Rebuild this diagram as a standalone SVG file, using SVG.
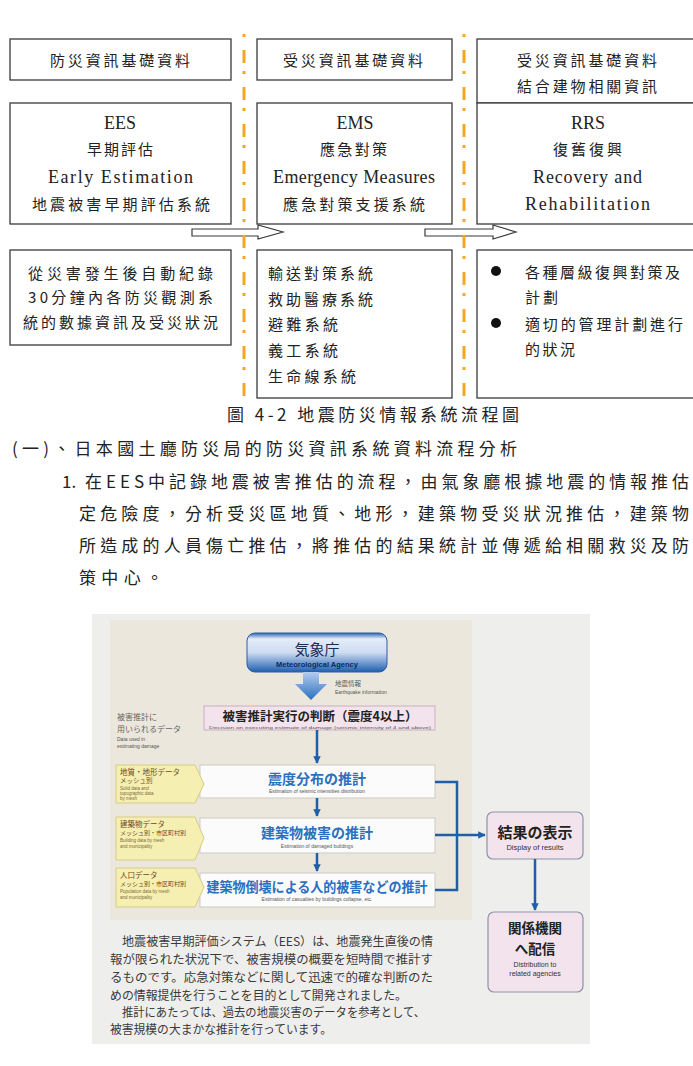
<svg xmlns="http://www.w3.org/2000/svg" width="693" height="1066" viewBox="0 0 693 1066">
<style>
.box{fill:#fff;stroke:#3a3a3a;stroke-width:1.3}
.zh{font-family:"Noto Sans CJK TC","Noto Sans",sans-serif;fill:#222;font-size:15px}
.p{font-family:"Noto Sans CJK TC","Noto Sans",sans-serif;fill:#222;font-size:17px}
.en{font-family:"Liberation Serif",serif;fill:#222;font-size:18px}
.mid{text-anchor:middle}
.blk{fill:#fff;stroke:#3a3a3a;stroke-width:1.2}
.orn{stroke:#f5a623;stroke-width:3;stroke-dasharray:3 13 13 8;fill:none}
.jp{font-family:"Noto Sans CJK JP","Noto Sans",sans-serif}
.wbox{fill:#fbfbfc;stroke:#cfcbc2;stroke-width:1}
.ybox{fill:#f6efb2;stroke:#d6cc86;stroke-width:1}
.pbox{fill:#f2e3ec;stroke:#8b93aa;stroke-width:1.2}
.bl{stroke:#1f5fa8;stroke-width:2.5;fill:none}
.sub{font-family:"Liberation Sans",sans-serif;fill:#555}
.yt{font-family:"Noto Sans CJK JP",sans-serif;fill:#6b4a1a}
.ye{font-family:"Liberation Sans",sans-serif;fill:#7a6a40;font-size:4.5px}
.bt{font-family:"Noto Sans CJK JP",sans-serif;fill:#2a6fc0;font-weight:bold;text-anchor:middle}
.jpp{font-family:"Noto Sans CJK JP",sans-serif;fill:#3a3a3a;font-size:12px}
</style>
<defs>
<marker id="ah" viewBox="0 0 10 10" refX="9" refY="5" markerWidth="3" markerHeight="3" orient="auto" markerUnits="strokeWidth"><path d="M0,0 L10,5 L0,10 z" fill="#1f5fa8"/></marker>
<linearGradient id="ag" x1="0" y1="0" x2="0" y2="1"><stop offset="0" stop-color="#2e63b0"/><stop offset="0.15" stop-color="#e4edf8"/><stop offset="0.5" stop-color="#cddcf1"/><stop offset="1" stop-color="#1f5fb0"/></linearGradient>
<linearGradient id="dg" x1="0" y1="0" x2="0" y2="1"><stop offset="0" stop-color="#b5cdee"/><stop offset="1" stop-color="#2a6fc0"/></linearGradient>
</defs>

<g id="n-top1"><rect class="box" x="10" y="39" width="221" height="41"/><text class="zh" x="50" y="66" textLength="140" lengthAdjust="spacing">防災資訊基礎資料</text></g>
<g id="n-top2"><rect class="box" x="257" y="39" width="195" height="41"/><text class="zh" x="283" y="66" textLength="140" lengthAdjust="spacing">受災資訊基礎資料</text></g>
<g id="n-top3"><rect class="box" x="477" y="39" width="222" height="64"/><text class="zh" x="517" y="66" textLength="140" lengthAdjust="spacing">受災資訊基礎資料</text><text class="zh" x="517" y="92" textLength="140" lengthAdjust="spacing">結合建物相關資訊</text></g>

<g id="n-ees"><rect class="box" x="10" y="103" width="221" height="121"/>
<text class="en mid" x="120" y="129">EES</text>
<text class="zh" x="87" y="155" textLength="66" lengthAdjust="spacing">早期評估</text>
<text class="en" x="48" y="183" textLength="145" lengthAdjust="spacing">Early Estimation</text>
<text class="zh" x="32" y="210" textLength="178" lengthAdjust="spacing">地震被害早期評估系統</text></g>
<g id="n-ems"><rect class="box" x="257" y="103" width="195" height="121"/>
<text class="en mid" x="355" y="129">EMS</text>
<text class="zh" x="320" y="155" textLength="67" lengthAdjust="spacing">應急對策</text>
<text class="en" x="273" y="183" textLength="162" lengthAdjust="spacing">Emergency Measures</text>
<text class="zh" x="283" y="210" textLength="142" lengthAdjust="spacing">應急對策支援系統</text></g>
<g id="n-rrs"><rect class="box" x="477" y="103" width="222" height="121"/>
<text class="en mid" x="588" y="129">RRS</text>
<text class="zh" x="553" y="155" textLength="69" lengthAdjust="spacing">復舊復興</text>
<text class="en" x="533" y="183" textLength="109" lengthAdjust="spacing">Recovery and</text>
<text class="en" x="525" y="210" textLength="125" lengthAdjust="spacing">Rehabilitation</text></g>

<g id="n-b1"><rect class="box" x="10" y="250" width="221" height="95"/>
<text class="zh" x="28" y="279" textLength="185" lengthAdjust="spacing">從災害發生後自動紀錄</text>
<text class="zh" x="28" y="303" textLength="185" lengthAdjust="spacing">30分鐘內各防災觀測系</text>
<text class="zh" x="23" y="328" textLength="195" lengthAdjust="spacing">統的數據資訊及受災狀況</text></g>
<g id="n-b2"><rect class="box" x="257" y="250" width="195" height="148"/>
<text class="zh" x="268" y="279" textLength="105" lengthAdjust="spacing">輸送對策系統</text>
<text class="zh" x="268" y="305" textLength="105" lengthAdjust="spacing">救助醫療系統</text>
<text class="zh" x="268" y="330" textLength="70" lengthAdjust="spacing">避難系統</text>
<text class="zh" x="268" y="356" textLength="70" lengthAdjust="spacing">義工系統</text>
<text class="zh" x="268" y="382" textLength="88" lengthAdjust="spacing">生命線系統</text></g>
<g id="n-b3"><rect class="box" x="477" y="250" width="222" height="148"/>
<circle cx="496" cy="271" r="5" fill="#111"/><circle cx="496" cy="323" r="5" fill="#111"/>
<text class="zh" x="525" y="278" textLength="155" lengthAdjust="spacing">各種層級復興對策及</text>
<text class="zh" x="525" y="303" textLength="33" lengthAdjust="spacing">計劃</text>
<text class="zh" x="525" y="330" textLength="158" lengthAdjust="spacing">適切的管理計劃進行</text>
<text class="zh" x="525" y="355" textLength="50" lengthAdjust="spacing">的狀況</text></g>

<g id="connectors">
<path class="blk" d="M192,229 H258 V225 L283,232 L258,239 V236 H192 Z"/>
<path class="blk" d="M425,229 H493 V225 L516,232 L493,239 V236 H425 Z"/>
<line class="orn" x1="244" y1="34" x2="244" y2="398"/>
<line class="orn" x1="464" y1="34" x2="464" y2="398"/>
</g>

<g id="caption">
<text class="p" x="227" y="421" textLength="292" lengthAdjust="spacing">圖 4-2 地震防災情報系統流程圖</text>
<text class="p" x="12" y="455" textLength="505" lengthAdjust="spacing">(一)、日本國土廳防災局的防災資訊系統資料流程分析</text>
<text class="p" x="62" y="488">1.</text>
<text class="p" x="85" y="488" textLength="604" lengthAdjust="spacing">在EES中記錄地震被害推估的流程，由氣象廳根據地震的情報推估</text>
<text class="p" x="79" y="520" textLength="610" lengthAdjust="spacing">定危險度，分析受災區地質、地形，建築物受災狀況推估，建築物</text>
<text class="p" x="79" y="552" textLength="610" lengthAdjust="spacing">所造成的人員傷亡推估，將推估的結果統計並傳遞給相關救災及防</text>
<text class="p" x="79" y="584" textLength="84" lengthAdjust="spacing">策中心。</text>
</g>

<g id="photo">
<rect x="92" y="614" width="498" height="430" fill="#eeeeec"/>
<rect x="110" y="620" width="362" height="300" fill="#ebe7dc"/>

<g id="p-agency">
<rect x="247" y="633" width="140" height="39" rx="8" fill="url(#ag)" stroke="#2a5ea8" stroke-width="1"/>
<text class="jp mid" x="317" y="655" font-size="15" fill="#1b2a55">気象庁</text>
<text class="sub mid" x="317" y="667" font-size="7.5" font-weight="bold" style="fill:#0e2a5e">Meteorological Agency</text>
</g>
<path d="M303,672 H319 V684 H327 L311,700 L295,684 H303 Z" fill="url(#dg)"/>
<text class="jp" x="335" y="686" font-size="6.5" fill="#555">地震情報</text>
<text class="sub" x="335" y="694" font-size="5">Earthquake information</text>

<g id="p-label">
<text class="jp" x="117" y="720" font-size="8" fill="#666">被害推計に</text>
<text class="jp" x="117" y="732" font-size="8" fill="#666">用いられるデータ</text>
<text class="sub" x="117" y="741" font-size="5">Data used in</text>
<text class="sub" x="117" y="748" font-size="5">estimating damage</text>
</g>

<g id="p-decision">
<rect x="204" y="706" width="231" height="24" fill="#f3e3ec" stroke="#c8b0c0" stroke-width="1"/>
<text class="jp mid" x="320" y="721" font-size="12.5" font-weight="bold" fill="#222">被害推計実行の判断（震度4以上）</text>
<text class="sub mid" x="320" y="728.5" font-size="4.3" textLength="222" lengthAdjust="spacingAndGlyphs">Decision on executing estimate of damage (seismic intensity of 4 and above)</text>
</g>

<g id="p-seis">
<rect class="wbox" x="200" y="765" width="235" height="33"/>
<text class="bt" x="317" y="784" font-size="14">震度分布の推計</text>
<text class="sub mid" x="317" y="793" font-size="5">Estimation of seismic intensities distribution</text>
</g>
<g id="p-build">
<rect class="wbox" x="200" y="818" width="235" height="35"/>
<text class="bt" x="317" y="838" font-size="14">建築物被害の推計</text>
<text class="sub mid" x="317" y="848" font-size="5">Estimation of damaged buildings</text>
</g>
<g id="p-cas">
<rect class="wbox" x="200" y="873" width="235" height="34"/>
<text class="bt" x="317" y="892" font-size="13.5" textLength="221" lengthAdjust="spacingAndGlyphs">建築物倒壊による人的被害などの推計</text>
<text class="sub mid" x="317" y="901" font-size="5">Estimation of casualties by buildings collapse, etc.</text>
</g>

<g id="p-y1">
<path class="ybox" d="M116,765 H195 L204,784 L195,803 H116 Z"/>
<text class="yt" x="120" y="775" font-size="7.5">地質・地形データ</text>
<text class="yt" x="120" y="783" font-size="6.5">メッシュ別</text>
<text class="ye" x="120" y="790">Solid data and</text>
<text class="ye" x="120" y="795">topographic data</text>
<text class="ye" x="120" y="800">by mesh</text>
</g>
<g id="p-y2">
<path class="ybox" d="M116,817 H195 L204,838 L195,860 H116 Z"/>
<text class="yt" x="120" y="827" font-size="7.5">建築物データ</text>
<text class="yt" x="120" y="835" font-size="6">メッシュ別・市区町村別</text>
<text class="ye" x="120" y="842">Building data by mesh</text>
<text class="ye" x="120" y="848">and municipality</text>
</g>
<g id="p-y3">
<path class="ybox" d="M116,868 H195 L204,887 L195,907 H116 Z"/>
<text class="yt" x="120" y="878" font-size="7.5">人口データ</text>
<text class="yt" x="120" y="886" font-size="6">メッシュ別・市区町村別</text>
<text class="ye" x="120" y="893">Population data by mesh</text>
<text class="ye" x="120" y="899">and municipality</text>
</g>

<g id="p-result">
<rect class="pbox" x="487" y="812" width="96" height="47" rx="6"/>
<text class="jp mid" x="535" y="838" font-size="15" font-weight="bold" fill="#222">結果の表示</text>
<text class="sub mid" x="535" y="850" font-size="7.5" style="fill:#333">Display of results</text>
</g>
<g id="p-dist">
<rect class="pbox" x="488" y="912" width="95" height="80" rx="6"/>
<text class="jp mid" x="535" y="933" font-size="13.5" font-weight="bold" fill="#222">関係機関</text>
<text class="jp mid" x="535" y="954" font-size="13.5" font-weight="bold" fill="#222">へ配信</text>
<text class="sub mid" x="535" y="967" font-size="7" style="fill:#333">Distribution to</text>
<text class="sub mid" x="535" y="976" font-size="7" style="fill:#333">related agencies</text>
</g>

<g id="p-connectors">
<line class="bl" x1="317" y1="730" x2="317" y2="763" marker-end="url(#ah)"/>
<line class="bl" x1="317" y1="798" x2="317" y2="816" marker-end="url(#ah)"/>
<line class="bl" x1="317" y1="853" x2="317" y2="871" marker-end="url(#ah)"/>
<path class="bl" d="M435,782 H457 V890 H435"/>
<line class="bl" x1="435" y1="835" x2="485" y2="835" marker-end="url(#ah)"/>
<line class="bl" x1="535" y1="859" x2="535" y2="910" marker-end="url(#ah)"/>
</g>

<g id="p-text">
<text class="jpp" x="122" y="946" textLength="311" lengthAdjust="spacingAndGlyphs">地震被害早期評価システム（EES）は、地震発生直後の情</text>
<text class="jpp" x="110" y="964" textLength="323" lengthAdjust="spacingAndGlyphs">報が限られた状況下で、被害規模の概要を短時間で推計す</text>
<text class="jpp" x="110" y="982" textLength="323" lengthAdjust="spacingAndGlyphs">るものです。応急対策などに関して迅速で的確な判断のた</text>
<text class="jpp" x="110" y="1000" textLength="297" lengthAdjust="spacingAndGlyphs">めの情報提供を行うことを目的として開発されました。</text>
<text class="jpp" x="122" y="1017" textLength="303" lengthAdjust="spacingAndGlyphs">推計にあたっては、過去の地震災害のデータを参考として、</text>
<text class="jpp" x="110" y="1034" textLength="222" lengthAdjust="spacingAndGlyphs">被害規模の大まかな推計を行っています。</text>
</g>
</g>
</svg>
